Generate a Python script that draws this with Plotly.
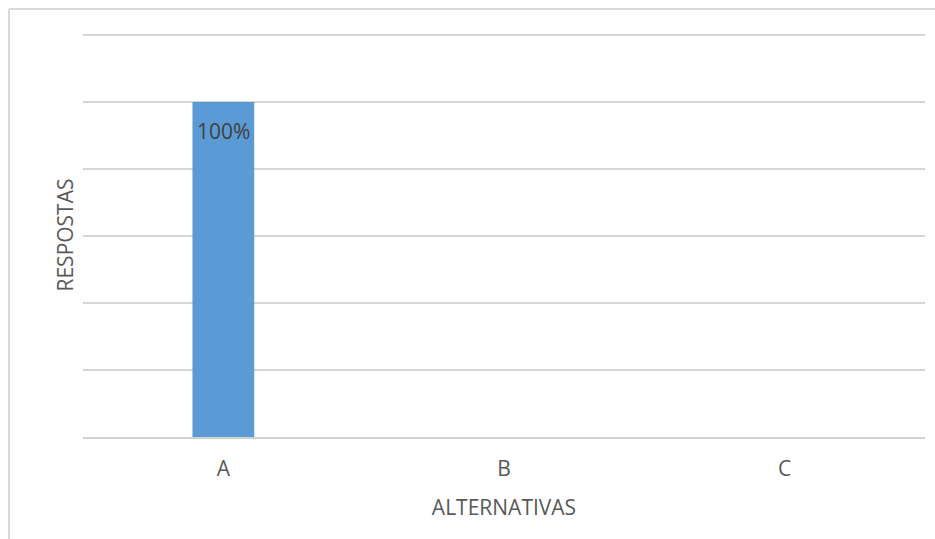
import plotly.graph_objects as go

categories = ["A", "B", "C"]
values = [1.0, 0.0, 0.0]
labels = ["100%", "", ""]
y_ticks = [0, 0.2, 0.4, 0.6, 0.8, 1.0, 1.2]

FONT = "Open Sans"
FS = 21
W, H = 935, 539
L, R, T, B = 83, 10, 33, 102
pw, ph = W - L - R, H - T - B
YMAX = 1.206

fig = go.Figure()
fig.add_trace(go.Bar(
    x=categories, y=values,
    marker=dict(color="#5b9bd5", line=dict(width=0)),
    width=0.22,
    hoverinfo="skip",
))

for c, v, t in zip(categories, values, labels):
    if t:
        fig.add_annotation(x=c, y=v, text=t, showarrow=False, yanchor="top",
                           yshift=-13, font=dict(family=FONT, size=FS, color="#404040"))

# outer chart border (top and left edges)
bx = (9 - L) / pw
by_top = (H - B - 9) / ph
by_bot = (H - B - H) / ph
bx_right = (W - L) / pw
fig.add_shape(type="line", xref="paper", yref="paper", x0=bx, x1=bx_right, y0=by_top, y1=by_top,
              line=dict(color="#d9d9d9", width=2))
fig.add_shape(type="line", xref="paper", yref="paper", x0=bx, x1=bx, y0=by_top, y1=by_bot,
              line=dict(color="#d9d9d9", width=2))

fig.update_layout(
    width=W, height=H,
    margin=dict(l=L, r=R, t=T, b=B),
    paper_bgcolor="white", plot_bgcolor="white",
    showlegend=False,
    font=dict(family=FONT, size=FS, color="#595959"),
    xaxis=dict(
        showgrid=False, showline=True, linecolor="#d0d0d0", linewidth=2,
        ticks="", ticklabelstandoff=12, tickfont=dict(size=FS, color="#595959"),
        title=dict(text="ALTERNATIVAS", font=dict(size=FS, color="#595959"), standoff=19),
    ),
    yaxis=dict(
        range=[0, YMAX], tickvals=y_ticks, showticklabels=False,
        showgrid=True, gridcolor="#d6d6d6", gridwidth=2, zeroline=False,
        ticks="",
        title=dict(text="RESPOSTAS", font=dict(size=FS, color="#595959"), standoff=2),
    ),
)

fig.write_html("out.html")
